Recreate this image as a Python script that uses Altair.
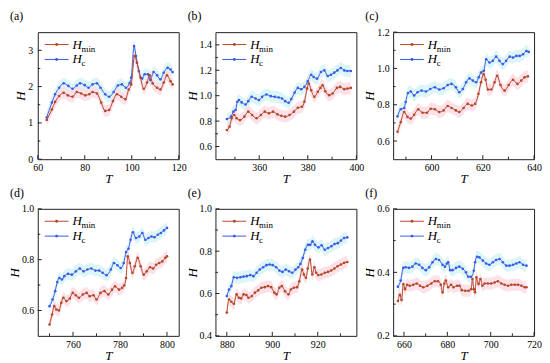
import altair as alt
import pandas as pd

# ---------------- data ----------------
# (a)
A_T_MIN = [63.8, 66, 67.4, 69.1, 71, 72.8, 74.8, 76.6, 78.5, 80.2, 81.9, 83.3, 85.2, 87, 88.7, 90.4, 92, 93.7, 95.5, 97.3,
           98.7, 99.8, 101.2, 102.2, 103.7, 105.1, 106.5, 107.6, 108.9, 110.8, 112.2, 113.6, 115, 116.5, 117.4]
A_H_MIN = [1.08, 1.37, 1.58, 1.74, 1.83, 1.76, 1.72, 1.85, 1.81, 1.76, 1.79, 1.85, 1.81, 1.56, 1.33, 1.36, 1.60, 1.79, 1.72, 1.65,
           1.92, 2.06, 2.84, 2.66, 2.25, 1.94, 2.11, 2.31, 2.09, 1.97, 1.92, 2.11, 2.31, 2.15, 2.06]
A_T_C = [63.8, 66, 67.4, 69.1, 71, 73, 74.8, 76.6, 78, 80, 81.6, 83.3, 85.2, 86.7, 88.7, 90.4, 92.3, 94.1, 95.8, 97.5,
         99.1, 99.8, 101, 101.8, 103, 104.4, 105.5, 106.9, 107.9, 109.3, 110.8, 112.2, 113.6, 115.3, 116.5, 117.4]
A_H_C = [1.15, 1.56, 1.79, 1.97, 2.09, 2.02, 1.94, 2.03, 2.09, 2.04, 1.97, 2.06, 2.09, 1.97, 1.79, 1.72, 1.85, 2.03, 2.06, 1.97,
         2.10, 2.25, 3.12, 2.84, 2.43, 2.22, 2.34, 2.34, 2.18, 2.40, 2.31, 2.20, 2.38, 2.52, 2.47, 2.40]
# (b)
B_T_MIN = [346.7, 347.8, 348.7, 349.7, 350.7, 352.1, 353.9, 355.5, 357.1, 358.9, 360.7, 362.3, 364, 365.7, 367.5, 369.1, 370.7,
           372.5, 374.3, 375.9, 377.6, 378.6, 379.7, 380.4, 381.4, 382.7, 384.1, 385.2, 386.1, 387.2, 388.8, 390.2, 392, 393.3,
           395, 396.3, 397.7]
B_H_MIN = [0.73, 0.756, 0.822, 0.848, 0.822, 0.808, 0.835, 0.874, 0.848, 0.822, 0.848, 0.874, 0.861, 0.874, 0.853, 0.842, 0.835,
           0.848, 0.874, 0.905, 0.913, 0.952, 1.056, 1.095, 1.043, 0.991, 1.03, 1.061, 1.082, 1.035, 1.004, 1.017, 1.061, 1.069,
           1.051, 1.056, 1.061]
B_T_C = [346.7, 348.4, 349.4, 350.3, 351, 351.7, 352.8, 354.4, 355.5, 356.9, 358.5, 359.9, 361.2, 363, 364.8, 366.4, 368, 369.4,
         370.7, 372.1, 373.2, 374.6, 375.9, 377.3, 378.6, 380, 381.4, 382.4, 383.8, 385.4, 386.8, 388.2, 389.5, 390.9, 392.2,
         393.6, 395, 396.3, 397.7]
B_H_C = [0.816, 0.835, 0.874, 0.887, 0.952, 0.965, 0.947, 0.931, 0.957, 0.991, 0.978, 0.965, 0.991, 1.009, 0.996, 0.991, 0.986,
         0.978, 0.957, 0.944, 0.973, 1.025, 1.061, 1.051, 1.069, 1.113, 1.165, 1.147, 1.134, 1.186, 1.199, 1.155, 1.165, 1.181,
         1.199, 1.218, 1.199, 1.194, 1.194]
# (c)
C_T_MIN = [586.7, 588.0, 589.3, 590.6, 591.9, 593.2, 594.8, 596.5, 598.2, 599.7, 601.3, 603.0, 604.7, 606.3, 607.8, 609.5, 610.8,
           612.5, 614.1, 615.7, 617.0, 618.3, 619.3, 620.3, 621.1, 622.0, 623.3, 624.6, 625.6, 626.9, 628.5, 630.1, 631.8, 633.5,
           635.0, 636.3, 637.6]
C_H_MIN = [0.651, 0.705, 0.76, 0.733, 0.724, 0.745, 0.775, 0.756, 0.756, 0.778, 0.775, 0.76, 0.769, 0.793, 0.782, 0.769, 0.76,
           0.782, 0.805, 0.796, 0.805, 0.86, 0.924, 0.969, 0.938, 0.884, 0.884, 0.924, 0.96, 0.909, 0.878, 0.909, 0.938, 0.915,
           0.933, 0.951, 0.956]
C_T_C = [586.7, 588.0, 589.3, 589.9, 590.8, 591.9, 593.2, 594.5, 596.1, 597.8, 599.5, 601.3, 603.0, 604.7, 606.3, 607.8, 609.5,
         610.8, 612.2, 613.5, 614.8, 616.1, 617.4, 618.4, 619.3, 620.4, 621.3, 622.6, 623.9, 625.2, 626.5, 627.8, 629.1, 630.5,
         631.8, 633.1, 634.4, 635.7, 637.0, 637.9]
C_H_C = [0.736, 0.775, 0.782, 0.815, 0.865, 0.873, 0.851, 0.869, 0.878, 0.873, 0.887, 0.896, 0.884, 0.891, 0.909, 0.915, 0.896,
         0.869, 0.887, 0.924, 0.945, 0.933, 0.924, 0.951, 0.978, 0.987, 1.051, 1.033, 1.042, 1.065, 1.042, 1.024, 1.042, 1.065,
         1.06, 1.069, 1.069, 1.078, 1.096, 1.091]
# (d)
D_T_MIN = [750.0, 751.1, 752.0, 752.9, 754.0, 755.0, 755.9, 757.2, 758.6, 759.9, 761.2, 762.5, 764.2, 765.8, 767.1, 768.7, 770.0,
           771.7, 773.4, 775.0, 776.6, 777.9, 779.6, 780.9, 781.8, 782.6, 783.3, 784.2, 785.3, 786.3, 787.5, 788.8, 790.1, 791.4,
           792.8, 794.1, 795.4, 796.7, 798.0, 799.3, 800.0]
D_H_MIN = [0.545, 0.584, 0.617, 0.604, 0.60, 0.63, 0.65, 0.637, 0.647, 0.669, 0.66, 0.65, 0.663, 0.669, 0.656, 0.66, 0.643, 0.669,
           0.676, 0.663, 0.682, 0.695, 0.682, 0.689, 0.699, 0.728, 0.813, 0.787, 0.748, 0.774, 0.807, 0.774, 0.741, 0.754, 0.77,
           0.765, 0.78, 0.787, 0.793, 0.807, 0.813]
D_T_C = [750.0, 751.3, 752.4, 753.3, 754.2, 755.3, 756.3, 757.9, 759.5, 761.2, 762.9, 764.5, 766.1, 767.8, 769.5, 771.1, 772.6,
         774.3, 776.1, 777.4, 778.9, 780.3, 781.6, 782.6, 783.6, 784.5, 785.5, 786.8, 788.2, 789.5, 790.8, 792.1, 793.4, 794.7,
         796.1, 797.4, 798.7, 800.0]
D_H_C = [0.617, 0.643, 0.676, 0.712, 0.728, 0.722, 0.735, 0.744, 0.741, 0.754, 0.765, 0.754, 0.761, 0.765, 0.757, 0.757, 0.748,
         0.739, 0.761, 0.787, 0.778, 0.767, 0.787, 0.83, 0.843, 0.878, 0.908, 0.885, 0.891, 0.905, 0.878, 0.885, 0.891, 0.888,
         0.898, 0.905, 0.915, 0.925]
# (e)
E_T_MIN = [880.0, 881.0, 882.0, 883.1, 884.3, 885.3, 886.3, 887.4, 888.6, 889.5, 891.0, 892.4, 893.8, 895.2, 896.7, 898.1, 899.5,
           900.9, 901.9, 903.1, 904.2, 905.6, 907.1, 908.2, 909.5, 910.9, 911.9, 913.1, 913.9, 914.8, 915.6, 916.6, 917.6, 918.5,
           919.3, 920.2, 921.6, 923.1, 924.5, 925.9, 927.3, 928.7, 930.2, 931.6, 933.0]
E_H_MIN = [0.51, 0.572, 0.561, 0.552, 0.596, 0.58, 0.577, 0.596, 0.593, 0.58, 0.588, 0.604, 0.615, 0.627, 0.63, 0.635, 0.63, 0.604,
           0.596, 0.627, 0.635, 0.611, 0.596, 0.619, 0.627, 0.63, 0.658, 0.713, 0.69, 0.674, 0.718, 0.76, 0.69, 0.724, 0.698,
           0.687, 0.69, 0.698, 0.702, 0.709, 0.718, 0.729, 0.737, 0.745, 0.749]
E_T_C = [880.0, 881.0, 882.0, 883.1, 884.5, 886.0, 887.4, 888.8, 890.3, 891.7, 893.1, 894.5, 896.0, 897.4, 898.8, 900.2, 901.7,
         903.1, 904.5, 905.9, 907.4, 908.8, 910.2, 911.4, 912.4, 913.4, 914.5, 915.7, 916.7, 917.7, 918.8, 920.3, 921.7, 923.1,
         924.5, 926.0, 927.4, 928.8, 930.2, 931.6, 933.0]
E_H_C = [0.588, 0.619, 0.635, 0.677, 0.674, 0.677, 0.68, 0.682, 0.687, 0.682, 0.698, 0.713, 0.724, 0.734, 0.737, 0.734, 0.724,
         0.709, 0.702, 0.713, 0.705, 0.698, 0.713, 0.724, 0.74, 0.768, 0.807, 0.83, 0.83, 0.846, 0.83, 0.818, 0.828, 0.807,
         0.815, 0.823, 0.834, 0.838, 0.85, 0.862, 0.865]
# (f)
F_T_MIN = [657.2, 658.1, 658.9, 659.7, 660.5, 661.5, 662.7, 664.3, 665.9, 667.4, 668.9, 670.8, 672.6, 674.2, 675.7, 677.0, 677.8,
           678.6, 679.3, 680.4, 681.7, 682.9, 684.5, 685.6, 686.7, 688.2, 689.8, 691.0, 691.6, 692.2, 692.8, 693.4, 694.4, 695.3,
           696.2, 697.2, 698.7, 700.2, 701.8, 703.3, 704.9, 706.4, 708.0, 709.5, 711.1, 712.6, 714.2, 715.7, 716.5]
F_H_MIN = [0.31, 0.329, 0.313, 0.363, 0.347, 0.361, 0.358, 0.361, 0.365, 0.358, 0.353, 0.358, 0.365, 0.372, 0.372, 0.361, 0.337,
           0.365, 0.374, 0.353, 0.361, 0.353, 0.358, 0.358, 0.344, 0.342, 0.342, 0.347, 0.379, 0.347, 0.337, 0.384, 0.363, 0.379,
           0.358, 0.365, 0.365, 0.365, 0.368, 0.372, 0.365, 0.361, 0.358, 0.361, 0.361, 0.361, 0.358, 0.353, 0.353]
F_T_C = [657.2, 658.5, 659.7, 660.8, 662.3, 663.9, 665.4, 667.0, 668.5, 670.1, 671.6, 673.2, 674.7, 676.2, 677.8, 678.9, 679.8,
         680.4, 681.3, 682.4, 684.0, 685.5, 687.1, 688.6, 689.7, 690.9, 692.2, 692.8, 693.7, 694.8, 696.4, 697.9, 699.4, 701.0,
         702.5, 704.1, 705.6, 707.2, 708.7, 710.3, 711.8, 713.3, 714.9, 716.5]
F_H_C = [0.355, 0.374, 0.414, 0.416, 0.414, 0.418, 0.428, 0.424, 0.414, 0.407, 0.416, 0.432, 0.442, 0.439, 0.424, 0.418, 0.428,
         0.432, 0.407, 0.407, 0.414, 0.418, 0.411, 0.40, 0.386, 0.386, 0.405, 0.432, 0.449, 0.447, 0.437, 0.428, 0.424, 0.432,
         0.439, 0.442, 0.432, 0.421, 0.421, 0.424, 0.428, 0.432, 0.424, 0.421]

# band half-widths (light shaded ranges around each curve)
BAND = {"a": 0.16, "b": 0.047, "c": 0.033, "d": 0.023, "e": 0.028, "f": 0.019}

# axis domains and ticks
X_DOMAINS = {"a": [60, 120], "b": [342, 400], "c": [585, 640], "d": [745, 805], "e": [875, 937], "f": [655, 720]}
Y_DOMAINS = {"a": [0, 3.5], "b": [0.5, 1.5], "c": [0.5, 1.2], "d": [0.5, 1.0], "e": [0.4, 1.0], "f": [0.2, 0.6]}
X_MAJOR = {"a": [60, 80, 100, 120], "b": [360, 380, 400], "c": [600, 620, 640], "d": [760, 780, 800],
           "e": [880, 900, 920], "f": [660, 680, 700, 720]}
X_MINOR = {"a": [70, 90, 110], "b": [350, 370, 390], "c": [590, 610, 630], "d": [750, 770, 790],
           "e": [890, 910, 930], "f": [670, 690, 710]}
Y_MAJOR = {"a": [0, 1, 2, 3], "b": [0.6, 0.8, 1.0, 1.2, 1.4], "c": [0.6, 0.8, 1.0, 1.2], "d": [0.6, 0.8, 1.0],
           "e": [0.4, 0.6, 0.8, 1.0], "f": [0.2, 0.4, 0.6]}
Y_MINOR = {"a": [0.5, 1.5, 2.5], "b": [0.7, 0.9, 1.1, 1.3], "c": [0.7, 0.9, 1.1], "d": [0.7, 0.9],
           "e": [0.5, 0.7, 0.9], "f": [0.3, 0.5]}
Y_FMT = {"a": "d", "b": ".1f", "c": ".1f", "d": ".1f", "e": ".1f", "f": ".1f"}
# panels whose top y label sits on the upper frame edge
TOP_LABEL = {"a": False, "b": False, "c": True, "d": True, "e": True, "f": True}

SERIES = {
    "a": (A_T_MIN, A_H_MIN, A_T_C, A_H_C),
    "b": (B_T_MIN, B_H_MIN, B_T_C, B_H_C),
    "c": (C_T_MIN, C_H_MIN, C_T_C, C_H_C),
    "d": (D_T_MIN, D_H_MIN, D_T_C, D_H_C),
    "e": (E_T_MIN, E_H_MIN, E_T_C, E_H_C),
    "f": (F_T_MIN, F_H_MIN, F_T_C, F_H_C),
}

# ---------------- style ----------------
BROWN = "#b4482a"
BLUE = "#3b5be3"
PINK = "#fbd9e4"
CYAN = "#d3f2f8"
FONT = "Liberation Serif"
LABEL_SIZE = 10
W, H = 142, 128
ONE = [{"k": 1}]


def panel(key):
    t_min, h_min, t_c, h_c = SERIES[key]
    bw = BAND[key]
    dmin = pd.DataFrame({"T": t_min, "H": h_min})
    dmin["lo"] = dmin["H"] - bw
    dmin["hi"] = dmin["H"] + bw
    dc = pd.DataFrame({"T": t_c, "H": h_c})
    dc["lo"] = dc["H"] - bw
    dc["hi"] = dc["H"] + bw

    xs = alt.Scale(domain=X_DOMAINS[key], nice=False, zero=False)
    ys = alt.Scale(domain=Y_DOMAINS[key], nice=False, zero=False)
    xax = alt.Axis(values=X_MAJOR[key], format="d", ticks=False, domain=False, grid=False,
                   labelFlush=False, labelPadding=3.5, title="T", titlePadding=0)
    yax = alt.Axis(values=Y_MAJOR[key], format=Y_FMT[key], ticks=False, domain=False, grid=False,
                   labelPadding=5 if key == "a" else 4, title="H", titlePadding=0)

    def X(f):
        return alt.X(f, scale=xs, axis=xax)

    def Y(f):
        return alt.Y(f, scale=ys, axis=yax)

    layers = []
    layers.append(alt.Chart(dc).mark_area(color=CYAN, opacity=0.8, interpolate="monotone").encode(
        x=X("T:Q"), y=Y("lo:Q"), y2="hi:Q"))
    layers.append(alt.Chart(dmin).mark_area(color=PINK, opacity=0.8, interpolate="monotone").encode(
        x=X("T:Q"), y=Y("lo:Q"), y2="hi:Q"))
    layers.append(alt.Chart(dc).mark_line(color=BLUE, strokeWidth=1.0, interpolate="monotone",
                                          point=alt.OverlayMarkDef(filled=True, size=7, color=BLUE)).encode(
        x=X("T:Q"), y=Y("H:Q")))
    layers.append(alt.Chart(dmin).mark_line(color=BROWN, strokeWidth=1.0, interpolate="monotone",
                                            point=alt.OverlayMarkDef(filled=True, size=7, color=BROWN)).encode(
        x=X("T:Q"), y=Y("H:Q")))

    # inward ticks
    for vals, ln in ((X_MAJOR[key], 4), (X_MINOR[key], 2.5)):
        layers.append(alt.Chart(pd.DataFrame({"v": vals})).mark_rule(color="#222", strokeWidth=1).encode(
            x=X("v:Q"), y=alt.value(H), y2=alt.value(H - ln)))
    for vals, ln in ((Y_MAJOR[key], 4), (Y_MINOR[key], 2.5)):
        layers.append(alt.Chart(pd.DataFrame({"v": vals})).mark_rule(color="#222", strokeWidth=1).encode(
            y=Y("v:Q"), x=alt.value(0), x2=alt.value(ln)))

    # legend
    for i, (col, sub) in enumerate([(BROWN, "min"), (BLUE, "c")]):
        yy = 12.5 + 15 * i
        d1 = alt.Data(values=ONE)
        layers.append(alt.Chart(d1).mark_rule(color=col, strokeWidth=1.0).encode(
            x=alt.value(7), x2=alt.value(31), y=alt.value(yy)))
        layers.append(alt.Chart(d1).mark_point(filled=True, size=9, color=col, opacity=1).encode(
            x=alt.value(19), y=alt.value(yy)))
        layers.append(alt.Chart(d1).mark_text(text="H", font=FONT, fontStyle="italic", fontSize=13,
                                              align="left", baseline="middle", color="black").encode(
            x=alt.value(35), y=alt.value(yy)))
        layers.append(alt.Chart(d1).mark_text(text=sub, font=FONT, fontSize=9, align="left",
                                              baseline="middle", color="black").encode(
            x=alt.value(44), y=alt.value(yy + 4)))

    off = 9 - LABEL_SIZE / 2 if TOP_LABEL[key] else 9
    return alt.layer(*layers).properties(
        width=W, height=H,
        title=alt.TitleParams(text=f"({key})", anchor="start", frame="group", dx=-28, offset=off,
                              font=FONT, fontSize=12, fontWeight="normal", color="black"))


chart = alt.concat(*[panel(k) for k in "abcdef"], columns=3,
                   spacing={"row": 0, "column": -1}).properties(
    padding=0, background="white"
).configure_view(stroke="#222", strokeWidth=1).configure_axis(
    labelFont=FONT, labelFontSize=LABEL_SIZE, labelColor="black",
    titleFont=FONT, titleFontSize=13, titleFontStyle="italic", titleFontWeight="normal", titleColor="black"
)

chart.save("out.html", embed_options={"renderer": "svg", "actions": False})
